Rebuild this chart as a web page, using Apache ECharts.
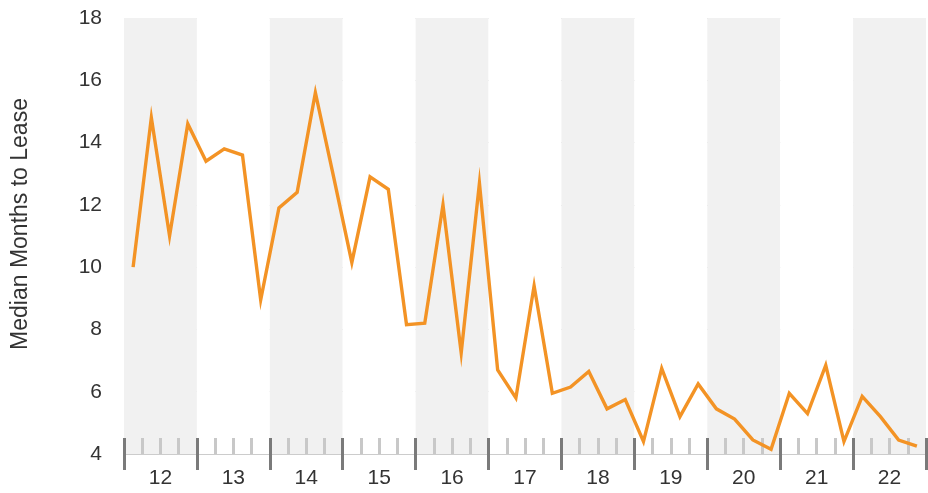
<!DOCTYPE html>
<html>
<head>
<meta charset="utf-8">
<script src="https://cdn.jsdelivr.net/npm/echarts@6/dist/echarts.min.js"></script>
<style>
  html, body { margin: 0; padding: 0; background: #fff; }
  #main { width: 928px; height: 493px; }
</style>
</head>
<body>
<div id="main"></div>
<script>
// year labels (2-digit) and quarterly median months to lease
var years = ['12', '13', '14', '15', '16', '17', '18', '19', '20', '21', '22']
var quarters = []
years.forEach(function (y) {
  ['Q1', 'Q2', 'Q3', 'Q4'].forEach(function (q) { quarters.push(y + ' ' + q) })
})
var months = [
  10.0, 14.8, 11.0, 14.6,
  13.4, 13.8, 13.6, 8.95,
  11.9, 12.4, 15.6, 12.9,
  10.15, 12.9, 12.5, 8.15,
  8.2, 12.0, 7.25, 12.7,
  6.7, 5.8, 9.4, 5.95,
  6.15, 6.65, 5.45, 5.75,
  4.4, 6.75, 5.2, 6.25,
  5.45, 5.12, 4.45, 4.15,
  5.95, 5.3, 6.85, 4.4,
  5.85, 5.2, 4.45, 4.25
]
var yTicks = [4, 6, 8, 10, 12, 14, 16, 18]

var fontFam = 'Liberation Sans, Arial, sans-serif'

var myChart = echarts.init(document.getElementById('main'))

myChart.setOption({
  animation: false,
  grid: { left: 124, right: 2, top: 18, bottom: 39 },
  xAxis: [
    {
      // quarters: light inner ticks + baseline
      type: 'category',
      data: quarters,
      position: 'bottom',
      boundaryGap: true,
      axisLine: { show: true, lineStyle: { color: '#cccccc', width: 1 } },
      axisTick: {
        show: true, inside: true, length: 16, interval: 0,
        lineStyle: { color: '#c8c8c8', width: 3 }
      },
      axisLabel: { show: false },
      splitLine: { show: false }
    },
    {
      // years: shaded bands, dark boundary ticks and labels
      type: 'category',
      data: years,
      position: 'bottom',
      offset: -16,
      boundaryGap: true,
      axisLine: { show: false },
      axisTick: {
        show: true, length: 32, interval: 0,
        lineStyle: { color: '#7a7a7a', width: 3 }
      },
      axisLabel: {
        margin: 30, color: '#333', fontSize: 21, fontFamily: fontFam
      },
      splitLine: { show: false },
      splitArea: {
        show: true,
        areaStyle: { color: ['#f1f1f1', '#ffffff'] }
      }
    }
  ],
  yAxis: {
    type: 'value',
    min: yTicks[0],
    max: yTicks[yTicks.length - 1],
    interval: 2,
    name: 'Median Months to Lease',
    nameLocation: 'middle',
    nameGap: 92,
    nameTextStyle: { color: '#333', fontSize: 23, fontFamily: fontFam, padding: [0, 0, 0, 24] },
    axisLine: { show: false },
    axisTick: { show: false },
    axisLabel: { margin: 22, color: '#333', fontSize: 21, fontFamily: fontFam },
    splitLine: { lineStyle: { color: '#d4d4d4', width: 1 } }
  },
  series: [{
    type: 'line',
    xAxisIndex: 0,
    data: months,
    symbol: 'none',
    lineStyle: { color: '#f39325', width: 3.4, join: 'miter' },
    z: 5
  }]
})

window.onresize = function () {
  myChart.resize()
}
</script>
</body>
</html>
